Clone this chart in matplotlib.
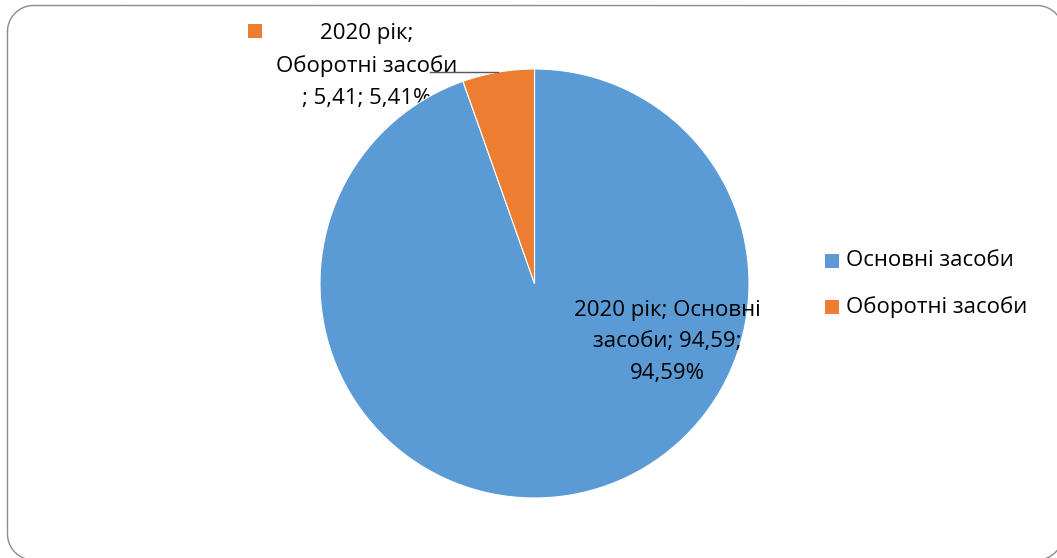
import matplotlib
matplotlib.use("Agg")
import matplotlib.pyplot as plt
import numpy as np

categories = ["Основні засоби", "Оборотні засоби"]
values = [94.59, 5.41]
colors = ["#5B9BD5", "#ED7D31"]
year = "2020 рік"

plt.rcParams['font.family'] = ['Open Sans', 'DejaVu Sans']

W, H = 1057, 558
fig = plt.figure(figsize=(W/100, H/100), dpi=100)

# background axes in pixel coordinates (y measured from top via helper)
bg = fig.add_axes([0, 0, 1, 1])
bg.set_xlim(0, W); bg.set_ylim(0, H); bg.axis("off")

def Y(y):
    return H - y

# rounded frame (pixel coords, y from top); only the part inside the canvas is drawn
x0, y0, x1, y1, rr = 7.5, 5.5, 1063, 560, 26
pts = []
for (ccx, ccy, a0, a1) in [(x0 + rr, y0 + rr, 180, 270), (x1 - rr, y0 + rr, 270, 360),
                           (x1 - rr, y1 - rr, 0, 90), (x0 + rr, y1 - rr, 90, 180)]:
    t = np.deg2rad(np.linspace(a0, a1, 40))
    pts += list(zip(ccx + rr*np.cos(t), ccy + rr*np.sin(t)))
pts.append(pts[0])
px = np.array([p[0] for p in pts]); py = np.array([p[1] for p in pts])
out = (px > W + 1) | (py > H + 1)
px = np.where(out, np.nan, px); py = np.where(out, np.nan, py)
bg.plot(px, Y(py), color="#8c8c8c", linewidth=1.0, clip_on=True)

cx, cy, r = 534.5, 283.5, 214.5
ax = fig.add_axes([(cx - r)/W, (H - cy - r)/H, 2*r/W, 2*r/H])
wedges, _ = ax.pie(values, colors=colors, startangle=90, counterclock=False,
                   wedgeprops=dict(edgecolor="white", linewidth=0.8))
ax.set_xlim(-1, 1); ax.set_ylim(-1, 1)
ax.set_aspect('equal')

def fmt(v):
    return f"{v:.2f}".replace(".", ",")

FS = 16

# blue label
ax.text((667 - cx)/r, (cy - 342)/r,
        f"{year}; Основні\nзасоби; {fmt(values[0])};\n{fmt(values[0])}%",
        ha="center", va="center", fontsize=FS, linespacing=1.68, color="#000000")

# orange label (outside)
bg.text(367, Y(66),
        f"{year};\nОборотні засоби\n; {fmt(values[1])}; {fmt(values[1])}%",
        ha="center", va="center", fontsize=FS, linespacing=1.7, color="#000000")
bg.add_patch(plt.Rectangle((248, Y(38)), 14, 14, facecolor=colors[1], edgecolor="none"))

# leader line
ang = np.deg2rad(90 + values[1]/100*360/2)
ex, ey = np.cos(ang), np.sin(ang)
ax.plot([ex, (430 - cx)/r], [ey, ey], color="#595959", linewidth=1.0, clip_on=False)

# legend
for i, (c, col) in enumerate(zip(categories, colors)):
    y = 261 + i*46
    bg.add_patch(plt.Rectangle((825, Y(y + 7)), 14, 14, facecolor=col, edgecolor="none"))
    bg.text(846, Y(y), c, ha="left", va="center", fontsize=FS, color="#000000")

fig.savefig("out.png", dpi=100)
